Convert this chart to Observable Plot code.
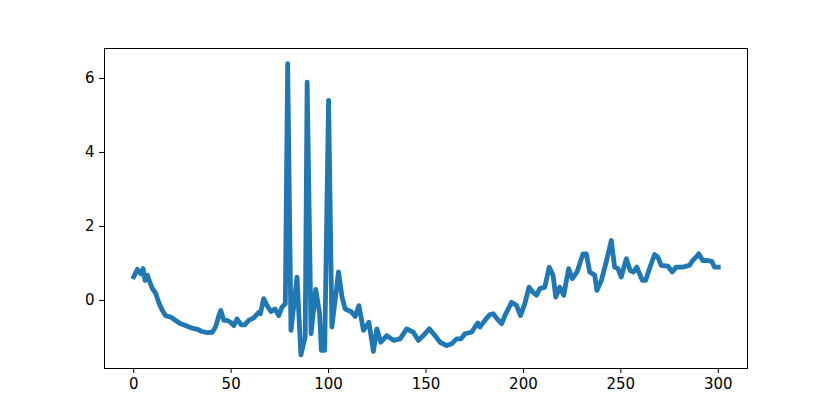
<!DOCTYPE html>
<html>
<head>
<meta charset="utf-8">
<script src="https://cdn.jsdelivr.net/npm/d3@7"></script>
<script src="https://cdn.jsdelivr.net/npm/@observablehq/plot@0.6"></script>
<style>
  html, body { margin: 0; padding: 0; background: #fff; }
  svg { display: block; }
</style>
</head>
<body>
<div id="chart"></div>
<script>
const xs = [0, 1.9, 3.6, 4.8, 5.8, 7, 8.2, 9.6, 11.3, 13, 14.7, 16.4, 19, 21.5, 24, 26.6, 30, 32.6, 35, 37.7,
  40.3, 42, 43.7, 44.7, 46.2, 48, 49.7, 51.4, 53, 55.2, 57, 59, 61.6, 64.2, 65, 66.7, 68.5, 70.5, 72.5, 74.4,
  76.1, 77.8, 79, 80.7, 83.8, 85.8, 88, 89, 91, 93.4, 95.4, 96.3, 98, 100, 101.7, 105.1, 106.9, 108.5, 111.5, 113.7,
  115.6, 117.9, 120.7, 123, 124.8, 126.8, 129.9, 133.3, 136.7, 140.1, 143.5, 146.1, 148.6, 151.7, 154.6, 157.2, 160.6, 163.2, 165.7, 168,
  170, 173.4, 176.5, 177.7, 180.2, 182.8, 184.5, 186.5, 188.8, 190.5, 193.9, 196.5, 198.5, 200.7, 202.9, 204.7, 206.7, 208.4, 211, 213.2,
  215.2, 216.6, 218.6, 220.7, 223.2, 225.1, 227.5, 230.6, 232.3, 234, 236.6, 237.7, 240, 242.5, 245.1, 246.8, 248.5, 250.2, 252.8, 254.8,
  256.5, 258.2, 261, 262.7, 264.7, 267.3, 269, 270.7, 274.1, 276.4, 278.4, 281.8, 285.2, 286.9, 288.6, 290, 292, 294.6, 296.8, 298, 300];
const ys = [0.64, 0.84, 0.72, 0.86, 0.54, 0.68, 0.50, 0.32, 0.19, -0.08, -0.27, -0.41, -0.45, -0.54, -0.63, -0.68, -0.75, -0.78, -0.84, -0.87,
  -0.86, -0.72, -0.41, -0.27, -0.54, -0.54, -0.59, -0.68, -0.5, -0.66, -0.66, -0.54, -0.47, -0.32, -0.36, 0.05, -0.15, -0.3, -0.23, -0.41,
  -0.18, -0.09, 6.4, -0.81, 0.63, -1.47, -0.99, 5.9, -0.9, 0.3, -0.36, -1.35, -1.35, 5.41, -0.72, 0.77, 0.09, -0.23, -0.3, -0.43,
  -0.14, -0.81, -0.59, -1.38, -0.77, -1.13, -0.95, -1.08, -1.04, -0.77, -0.86, -1.08, -0.95, -0.77, -0.95, -1.13, -1.22, -1.17, -1.04, -1.04,
  -0.9, -0.86, -0.61, -0.72, -0.54, -0.38, -0.36, -0.5, -0.63, -0.41, -0.05, -0.14, -0.41, -0.09, 0.36, 0.23, 0.14, 0.32, 0.36, 0.9,
  0.68, 0.09, 0.36, 0.14, 0.86, 0.59, 0.77, 1.26, 1.26, 0.77, 0.68, 0.27, 0.54, 1.04, 1.62, 0.9, 0.86, 0.63, 1.13, 0.81,
  0.77, 0.9, 0.54, 0.54, 0.86, 1.24, 1.17, 0.95, 0.93, 0.77, 0.9, 0.9, 0.95, 1.08, 1.17, 1.26, 1.08, 1.08, 1.05, 0.9, 0.9];
const xTicks = [0, 50, 100, 150, 200, 250, 300];
const yTicks = [0, 2, 4, 6];

const data = xs.map((x, i) => ({x, y: ys[i]}));

const chart = Plot.plot({
  width: 830,
  height: 415,
  marginLeft: 104,
  marginRight: 83,
  marginTop: 48,
  marginBottom: 47,
  style: {fontFamily: "DejaVu Sans", fontSize: "15px", color: "black", background: "white"},
  x: {domain: [-15, 315], ticks: xTicks, tickSize: 5, tickPadding: 5, label: null},
  y: {domain: [-1.84, 6.81], ticks: yTicks, tickSize: 5, tickPadding: 5, label: null},
  marks: [
    Plot.line(data, {x: "x", y: "y", stroke: "#1f77b4", strokeWidth: 4.8, strokeLinejoin: "round", strokeLinecap: "square"}),
    Plot.frame({stroke: "black", strokeWidth: 1})
  ]
});
document.getElementById("chart").appendChild(chart);
</script>
</body>
</html>
